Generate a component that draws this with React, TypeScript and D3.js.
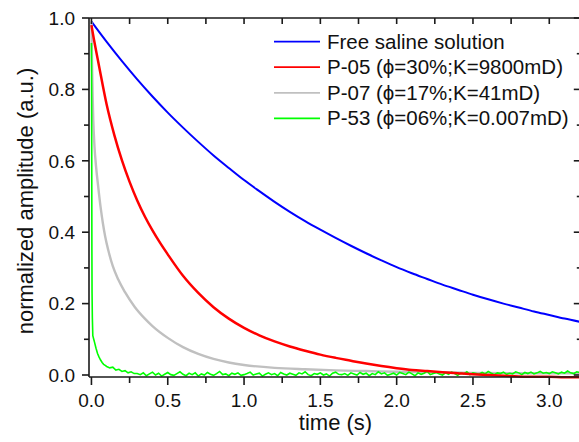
import React from "react";
import * as d3 from "d3";

// ---- data ----
const blueT = [0.0,0.1,0.2,0.3,0.4,0.5,0.6,0.7,0.8,0.9,1.0,1.1,1.2,1.3,1.4,1.5,1.6,1.7,1.8,1.9,2.0,2.1,2.2,2.3,2.4,2.5,2.6,2.7,2.8,2.9,3.0,3.1,3.2];
const blueV = [0.99,0.933,0.879,0.828,0.780,0.735,0.693,0.653,0.615,0.580,0.546,0.515,0.485,0.457,0.431,0.407,0.384,0.362,0.341,0.321,0.302,0.285,0.269,0.253,0.239,0.225,0.212,0.200,0.189,0.178,0.168,0.158,0.149];

const redT = [0.0,0.01,0.05,0.1,0.15,0.2,0.25,0.3,0.35,0.4,0.45,0.5,0.6,0.7,0.8,0.9,1.0,1.1,1.2,1.3,1.4,1.5,1.6,1.7,1.8,1.9,2.0,2.1,2.2,2.3,2.4,2.5,2.6,2.7,2.8,2.9,3.0,3.1,3.2];
const redV = [0.98,0.955,0.865,0.757,0.672,0.601,0.541,0.489,0.444,0.405,0.37,0.338,0.278,0.23,0.19,0.158,0.132,0.111,0.094,0.08,0.068,0.057,0.048,0.04,0.032,0.025,0.019,0.014,0.011,0.008,0.005,0.002,0.0,-0.002,-0.004,-0.005,-0.005,-0.006,-0.006];

const grayT = [0.0,0.004,0.008,0.012,0.02,0.03,0.045,0.06,0.075,0.09,0.11,0.14,0.175,0.22,0.285,0.35,0.4,0.5,0.6,0.7,0.8,0.9,1.0,1.2,1.4,1.6,1.8,2.0,2.2,2.5,2.8,3.2];
const grayV = [0.99,0.87,0.78,0.715,0.64,0.585,0.525,0.47,0.425,0.388,0.35,0.305,0.268,0.232,0.19,0.158,0.137,0.104,0.078,0.059,0.045,0.035,0.028,0.02,0.016,0.013,0.011,0.009,0.008,0.006,0.005,0.005];

const greenHeadT = [0.0,0.001,0.002,0.003,0.004,0.006,0.009,0.015,0.02,0.03,0.04,0.05,0.06,0.07,0.08,0.09,0.1,0.12,0.14,0.16,0.18,0.2,0.22,0.24,0.26,0.28];
const greenHeadV = [0.93,0.85,0.6,0.35,0.23,0.16,0.11,0.1,0.092,0.075,0.06,0.05,0.042,0.035,0.03,0.027,0.024,0.02,0.022,0.014,0.016,0.01,0.012,0.006,0.009,0.004];
const greenTailStart = 0.3;
const greenTailStep = 0.02;
const greenTailV = [
0.004,0.001,0.006,-0.002,0.003,0.008,0.000,0.005,-0.003,0.002,0.007,0.001,-0.001,0.004,0.009,0.002,-0.002,0.005,0.001,0.006,
-0.003,0.003,0.000,0.007,0.002,-0.001,0.004,0.010,0.001,0.003,-0.002,0.005,0.002,0.006,-0.001,0.001,0.004,0.008,0.000,0.003,
0.005,-0.003,0.002,0.006,0.001,0.004,-0.002,0.007,0.003,0.000,0.005,0.002,-0.001,0.006,0.003,0.009,0.001,-0.002,0.004,0.002,
0.006,0.000,0.003,-0.003,0.005,0.008,0.002,0.001,0.004,-0.001,0.006,0.003,0.000,0.007,0.002,0.005,-0.002,0.004,0.001,0.009,
0.003,0.006,-0.001,0.002,0.005,0.000,0.007,0.004,0.001,0.008,0.003,-0.002,0.006,0.002,0.005,0.010,0.001,0.004,0.007,0.003,
0.000,0.006,0.002,0.008,0.004,-0.001,0.005,0.003,0.009,0.001,0.006,0.004,0.002,0.007,0.003,0.010,0.005,0.001,0.006,0.004,
0.008,0.002,0.005,0.003,0.009,0.006,0.001,0.007,0.004,0.008,0.003,0.006,0.010,0.005,0.007,0.004,0.009,0.006,0.003,0.008,
0.005,0.011,0.006,0.004,0.009,0.007];

const seriesNames = ["Free saline solution", "P-05 (\u03d5=30%;K=9800mD)", "P-07 (\u03d5=17%;K=41mD)", "P-53 (\u03d5=06%;K=0.007mD)"];
const seriesColors = ["#0000ff", "#ff0000", "#c0c0c0", "#00ff00"];

const xTickValues = [0, 0.5, 1.0, 1.5, 2.0, 2.5, 3.0];
const xMinorValues = [0.25, 0.75, 1.25, 1.75, 2.25, 2.75];
const yTickValues = [0, 0.2, 0.4, 0.6, 0.8, 1.0];
const yMinorValues = [0.1, 0.3, 0.5, 0.7, 0.9];

type P = [number, number];
const zip = (t: number[], v: number[]): P[] => t.map((d, i) => [d, v[i]]);

export default function App() {
  const W = 579, H = 442;
  const x = d3.scaleLinear().domain([-0.016, 3.2]).range([89, 579.8]);
  const y = d3.scaleLinear().domain([-0.0056, 1.0]).range([377, 18]);
  const left = 89, right = 579.8, top = 18, bottom = 377;

  const smooth = d3.line<P>().x(d => x(d[0])).y(d => y(d[1])).curve(d3.curveMonotoneX);
  const straight = d3.line<P>().x(d => x(d[0])).y(d => y(d[1]));

  const blue = zip(blueT, blueV);
  const red = zip(redT, redV);
  const gray = zip(grayT, grayV);
  const greenTail: P[] = greenTailV.map((v, i) => [greenTailStart + i * greenTailStep, v]);
  const green: P[] = zip(greenHeadT, greenHeadV).concat(greenTail);

  const font = "Arial, 'Liberation Sans', sans-serif";
  const legendY = [41.7, 67.2, 92.9, 118.4];

  return (
    <svg width={W} height={H} style={{ position: "absolute", left: 0, top: 0, background: "#fff" }}>
      <defs>
        <clipPath id="plot">
          <rect x={left} y={top - 2} width={right - left} height={bottom - top + 6} />
        </clipPath>
      </defs>
      <g clipPath="url(#plot)" fill="none">
        <path d={smooth(blue) || ""} stroke={seriesColors[0]} strokeWidth={2} />
        <path d={smooth(gray) || ""} stroke={seriesColors[2]} strokeWidth={2.4} />
        <path d={straight(green) || ""} stroke={seriesColors[3]} strokeWidth={1.6} />
        <path d={smooth(red) || ""} stroke={seriesColors[1]} strokeWidth={2.5} />
      </g>

      {/* axes frame */}
      <g stroke="#1a1a1a" strokeWidth={1.6} fill="none">
        <line x1={left} x2={right} y1={top} y2={top} />
        <line x1={left} x2={right} y1={bottom} y2={bottom} />
        <line x1={left} x2={left} y1={top} y2={bottom} />
        <line x1={right} x2={right} y1={top} y2={bottom} />
        {xTickValues.map(t => (
          <g key={"xt" + t}>
            <line x1={x(t)} x2={x(t)} y1={bottom} y2={bottom + 8} />
            <line x1={x(t)} x2={x(t)} y1={top} y2={top + 6} />
          </g>
        ))}
        {xMinorValues.map(t => (
          <g key={"xm" + t}>
            <line x1={x(t)} x2={x(t)} y1={bottom} y2={bottom + 6} />
            <line x1={x(t)} x2={x(t)} y1={top} y2={top + 6} />
          </g>
        ))}
        {yTickValues.map(v => (
          <g key={"yt" + v}>
            <line x1={left - 7} x2={left} y1={y(v)} y2={y(v)} />
            <line x1={right - 6} x2={right} y1={y(v)} y2={y(v)} />
          </g>
        ))}
        {yMinorValues.map(v => (
          <g key={"ym" + v}>
            <line x1={left - 5} x2={left} y1={y(v)} y2={y(v)} />
            <line x1={right - 3} x2={right} y1={y(v)} y2={y(v)} />
          </g>
        ))}
      </g>

      {/* tick labels */}
      <g fontFamily={font} fontSize={19} fill="#111">
        {xTickValues.map(t => (
          <text key={"xl" + t} x={x(t)} y={406.5} textAnchor="middle">{t.toFixed(1)}</text>
        ))}
        {yTickValues.map(v => (
          <text key={"yl" + v} x={75} y={y(v) + 6.8} textAnchor="end">{v.toFixed(1)}</text>
        ))}
      </g>

      {/* axis titles */}
      <text x={335.5} y={430} textAnchor="middle" fontFamily={font} fontSize={22} fill="#111">time (s)</text>
      <text transform={`translate(33,201) rotate(-90)`} textAnchor="middle" fontFamily={font} fontSize={22} fill="#111">
        normalized amplitude (a.u.)
      </text>

      {/* legend */}
      <g fontFamily={font} fontSize={20.5} fill="#111">
        {seriesNames.map((name, i) => (
          <g key={name}>
            <line x1={274} x2={320} y1={legendY[i]} y2={legendY[i]} stroke={seriesColors[i]} strokeWidth={1.8} />
            <text x={327} y={legendY[i] + 6.8}>{name}</text>
          </g>
        ))}
      </g>
    </svg>
  );
}
